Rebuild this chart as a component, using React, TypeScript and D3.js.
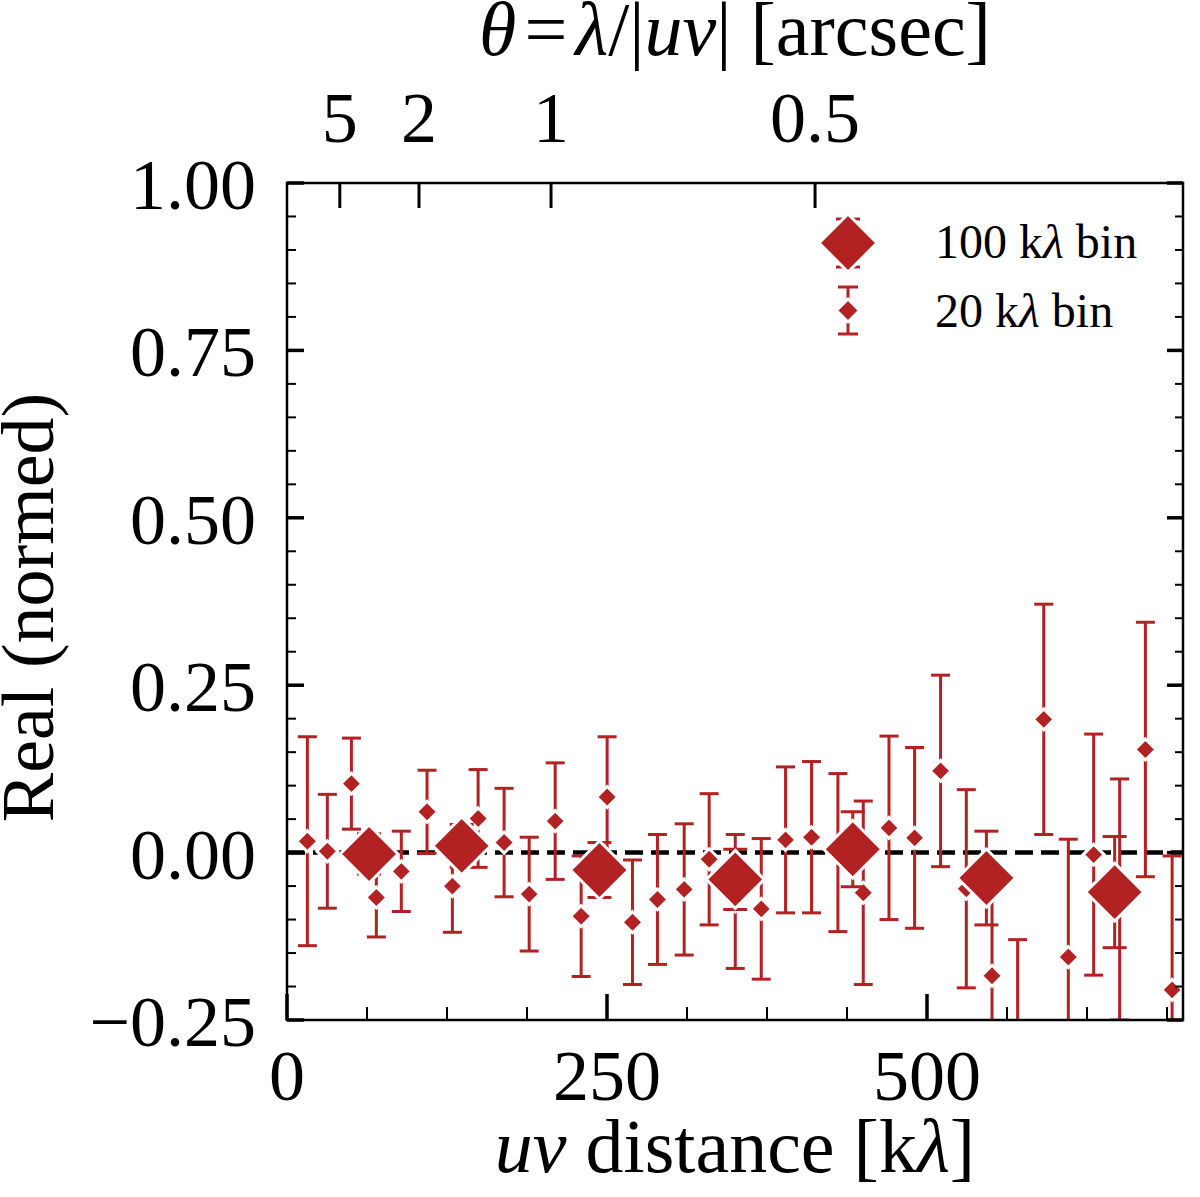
import React from "react";
import * as d3 from "d3";

// 20 kλ bins
const uv20 = [15.9, 31.5, 50.3, 69.8, 89.3, 109.4, 129.2, 149.3, 169.6, 189.2, 209.5, 229.8, 250.1, 269.9, 289.4, 310.3, 329.8, 350.2, 370.5, 389.5, 409.8, 430.4, 450.2, 470.3, 490.3, 510.6, 530.7, 550.8, 570.8, 591.2, 610.4, 630.2, 650.5, 670.6, 691.5];
const real20 = [0.017, 0.002, 0.103, -0.067, -0.028, 0.061, -0.05, 0.051, 0.015, -0.062, 0.047, -0.095, 0.083, -0.104, -0.07, -0.055, -0.01, -0.073, -0.084, 0.019, 0.023, 0.0, -0.06, 0.037, 0.022, 0.122, -0.054, -0.184, -0.29, 0.199, -0.156, -0.003, -0.07, 0.154, -0.205];
const err20 = [0.156, 0.085, 0.068, 0.059, 0.06, 0.062, 0.069, 0.073, 0.081, 0.085, 0.087, 0.09, 0.09, 0.093, 0.097, 0.098, 0.098, 0.1, 0.105, 0.109, 0.113, 0.118, 0.137, 0.137, 0.135, 0.143, 0.148, 0.15, 0.16, 0.172, 0.176, 0.18, 0.18, 0.19, 0.2];

// 100 kλ bins
const uv100 = [64.1, 136.5, 244.1, 350.2, 442, 546.4, 646.6];
const real100 = [-0.002, 0.01, -0.026, -0.04, 0.005, -0.038, -0.059];
const err100 = [0.03, 0.032, 0.041, 0.045, 0.056, 0.07, 0.083];

const xMajor = [0, 250, 500];
const xMinor = [62.5, 125, 187.5, 312.5, 375, 437.5, 562.5, 625, 687.5];
const yMajor = [-0.25, 0, 0.25, 0.5, 0.75, 1.0];
const thetaTicks = [5, 2, 1, 0.5];

const RED = "#b22222";
const FONT = "'Liberation Serif', 'Times New Roman', serif";

const W = 1200;
const H = 1197;
const margin = { top: 183, right: 17, bottom: 177, left: 287 };

const x = d3.scaleLinear().domain([0, 700]).range([margin.left, W - margin.right]);
const y = d3.scaleLinear().domain([-0.25, 1.0]).range([H - margin.bottom, margin.top]);
const yMinor = d3.range(-0.25, 1.0001, 0.05).filter((v) => !yMajor.some((m) => Math.abs(m - v) < 1e-6));
const fmt = d3.format(".2f");
const fmtTheta = (t: number) => String(t);

const diamond = (r: number) => `M0,${-r}L${r},0L0,${r}L${-r},0Z`;

function ErrPoint({ cx, cy, lo, hi, r, cap, sw }: { cx: number; cy: number; lo: number; hi: number; r: number; cap: number; sw: number }) {
  return (
    <g>
      <line x1={cx} x2={cx} y1={hi} y2={lo} stroke={RED} strokeWidth={sw} />
      <line x1={cx - cap} x2={cx + cap} y1={hi} y2={hi} stroke={RED} strokeWidth={sw} />
      <line x1={cx - cap} x2={cx + cap} y1={lo} y2={lo} stroke={RED} strokeWidth={sw} />
      <path d={diamond(r)} transform={`translate(${cx},${cy})`} fill={RED} stroke="#fff" strokeWidth={3} />
    </g>
  );
}

export default function App() {
  const x0 = margin.left;
  const x1 = W - margin.right;
  const y0 = margin.top;
  const y1 = H - margin.bottom;

  return (
    <div style={{ position: "absolute", left: 0, top: 0 }}>
      <svg width={W} height={H} style={{ display: "block", background: "#fff" }} fontFamily={FONT}>
        <defs>
          <clipPath id="plot">
            <rect x={x0} y={y0} width={x1 - x0} height={y1 - y0} />
          </clipPath>
        </defs>

        <g clipPath="url(#plot)">
          {/* zero line */}
          <line x1={x0} x2={x1} y1={y(0)} y2={y(0)} stroke="#000" strokeWidth={4.5} strokeDasharray="18,8" />

          {uv20.map((u, i) => (
            <ErrPoint
              key={"s" + i}
              cx={x(u)}
              cy={y(real20[i])}
              hi={y(real20[i] + err20[i])}
              lo={y(real20[i] - err20[i])}
              r={10.5}
              cap={9.5}
              sw={3}
            />
          ))}
          {uv100.map((u, i) => (
            <ErrPoint
              key={"b" + i}
              cx={x(u)}
              cy={y(real100[i])}
              hi={y(real100[i] + err100[i])}
              lo={y(real100[i] - err100[i])}
              r={29}
              cap={12}
              sw={3}
            />
          ))}
        </g>

        {/* frame */}
        <rect x={x0} y={y0} width={x1 - x0} height={y1 - y0} fill="none" stroke="#000" strokeWidth={2.5} />

        {/* y ticks left and right */}
        {yMajor.map((v) => (
          <g key={"ym" + v}>
            <line x1={x0} x2={x0 + 17} y1={y(v)} y2={y(v)} stroke="#000" strokeWidth={3.5} />
            <line x1={x1} x2={x1 - 16} y1={y(v)} y2={y(v)} stroke="#000" strokeWidth={3.5} />
            <text x={256} y={y(v) + 26} textAnchor="end" fontSize={72}>
              {fmt(v)}
            </text>
          </g>
        ))}
        {yMinor.map((v) => (
          <g key={"yn" + v}>
            <line x1={x0} x2={x0 + 9} y1={y(v)} y2={y(v)} stroke="#000" strokeWidth={2} />
            <line x1={x1} x2={x1 - 8} y1={y(v)} y2={y(v)} stroke="#000" strokeWidth={2} />
          </g>
        ))}

        {/* x ticks */}
        {xMajor.map((v) => (
          <g key={"xm" + v}>
            <line x1={x(v)} x2={x(v)} y1={y1} y2={y1 - 26} stroke="#000" strokeWidth={3.5} />
            <text x={x(v)} y={1100} textAnchor="middle" fontSize={72}>
              {v}
            </text>
          </g>
        ))}
        {xMinor.map((v) => (
          <line key={"xn" + v} x1={x(v)} x2={x(v)} y1={y1} y2={y1 - 13} stroke="#000" strokeWidth={2} />
        ))}

        {/* top theta axis */}
        {thetaTicks.map((t) => (
          <g key={"t" + t}>
            <line x1={x(206.265 / t)} x2={x(206.265 / t)} y1={y0} y2={y0 + 25} stroke="#000" strokeWidth={3} />
            <text x={x(206.265 / t)} y={142} textAnchor="middle" fontSize={72}>
              {fmtTheta(t)}
            </text>
          </g>
        ))}

        {/* axis labels */}
        <text x={(x0 + x1) / 2} y={55} textAnchor="middle" fontSize={76}>
          <tspan fontStyle="italic">θ</tspan>
          <tspan dx={8}>=</tspan>
          <tspan dx={8} fontStyle="italic">λ</tspan>
          <tspan>/|</tspan>
          <tspan fontStyle="italic">uv</tspan>
          <tspan>| [arcsec]</tspan>
        </text>
        <text x={(x0 + x1) / 2} y={1172} textAnchor="middle" fontSize={76}>
          <tspan fontStyle="italic">uv</tspan>
          <tspan> distance [k</tspan>
          <tspan fontStyle="italic">λ</tspan>
          <tspan>]</tspan>
        </text>
        <text transform={`translate(53,${(y0 + y1) / 2 + 6}) rotate(-90)`} textAnchor="middle" fontSize={74}>
          Real (normed)
        </text>

        {/* legend */}
        <g>
          <line x1={836} x2={860} y1={219} y2={219} stroke={RED} strokeWidth={3} />
          <line x1={836} x2={860} y1={267} y2={267} stroke={RED} strokeWidth={3} />
          <path d={diamond(29)} transform="translate(848,243)" fill={RED} stroke="#fff" strokeWidth={3} />
          <text x={935} y={258} fontSize={48}>
            100 k<tspan fontStyle="italic">λ</tspan> bin
          </text>
          <line x1={848} x2={848} y1={287} y2={334} stroke={RED} strokeWidth={3} />
          <line x1={838} x2={858} y1={287} y2={287} stroke={RED} strokeWidth={3} />
          <line x1={838} x2={858} y1={334} y2={334} stroke={RED} strokeWidth={3} />
          <path d={diamond(11.5)} transform="translate(848,310.5)" fill={RED} stroke="#fff" strokeWidth={3} />
          <text x={935} y={327} fontSize={48}>
            20 k<tspan fontStyle="italic">λ</tspan> bin
          </text>
        </g>
      </svg>
    </div>
  );
}
